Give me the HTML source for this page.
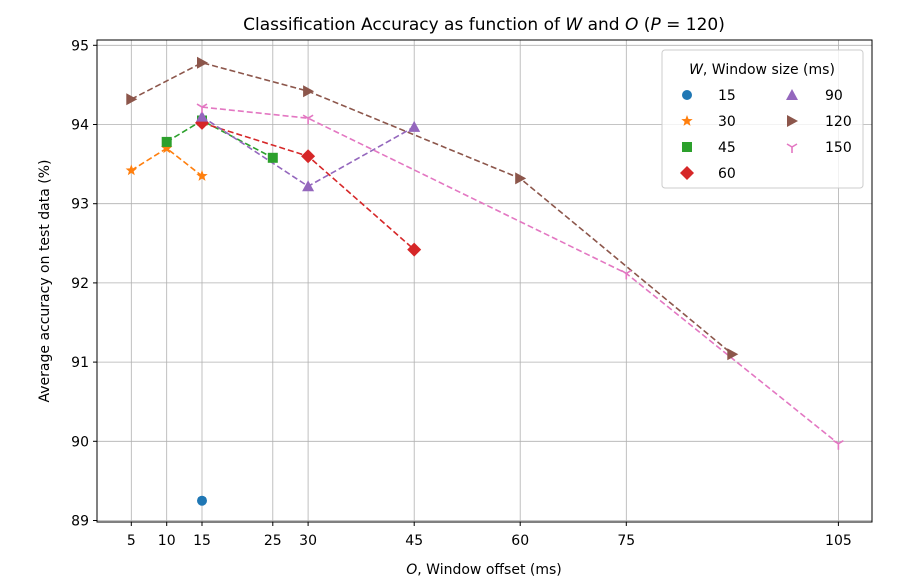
<!DOCTYPE html>
<html><head><style>body{margin:0;background:#fff}svg{display:block;font-family:"DejaVu Sans","Liberation Sans",sans-serif}</style></head>
<body>
<svg width="906" height="586" viewBox="0 0 906 586">
<g stroke="#b0b0b0" stroke-width="0.8">
<line x1="131.3" y1="40" x2="131.3" y2="522"/><line x1="166.7" y1="40" x2="166.7" y2="522"/><line x1="202" y1="40" x2="202" y2="522"/><line x1="272.8" y1="40" x2="272.8" y2="522"/><line x1="308.1" y1="40" x2="308.1" y2="522"/><line x1="414.2" y1="40" x2="414.2" y2="522"/><line x1="520.2" y1="40" x2="520.2" y2="522"/><line x1="626.3" y1="40" x2="626.3" y2="522"/><line x1="838.4" y1="40" x2="838.4" y2="522"/>
<line x1="97" y1="45.3" x2="872" y2="45.3"/><line x1="97" y1="124.5" x2="872" y2="124.5"/><line x1="97" y1="203.7" x2="872" y2="203.7"/><line x1="97" y1="282.9" x2="872" y2="282.9"/><line x1="97" y1="362.1" x2="872" y2="362.1"/><line x1="97" y1="441.3" x2="872" y2="441.3"/><line x1="97" y1="520.5" x2="872" y2="520.5"/>
</g>
<g fill="none" stroke-width="1.6" stroke-dasharray="6,3">
<polyline stroke="#ff7f0e" points="131.3,170.4 166.7,148.3 202,176"/>
<polyline stroke="#2ca02c" points="166.7,141.9 202,120.5 272.8,157.8"/>
<polyline stroke="#d62728" points="202,122.9 308.1,156.2 414.2,249.6"/>
<polyline stroke="#9467bd" points="202,116.6 308.1,186.3 414.2,126.9"/>
<polyline stroke="#8c564b" points="131.3,99.2 202,62.7 308.1,91.2 520.2,178.4 732.3,354.2"/>
<polyline stroke="#e377c2" points="202,107.1 308.1,118.2 626.3,273.4 838.4,443.7"/>
</g>
<defs>
<circle id="mc" r="5" fill="#1f77b4"/>
<polygon id="ms" fill="#ff7f0e" points="0,-6 1.5,-2 5.7,-1.9 2.4,0.8 3.5,4.9 0,2.5 -3.5,4.9 -2.4,0.8 -5.7,-1.9 -1.5,-2"/>
<rect id="mq" x="-5" y="-5" width="10" height="10" fill="#2ca02c"/>
<polygon id="md" fill="#d62728" points="0,-7 7,0 0,7 -7,0"/>
<polygon id="mt" fill="#9467bd" points="0,-6 6,5 -6,5"/>
<polygon id="mr" fill="#8c564b" points="-5,-6 6,0 -5,6"/>
<path id="my" d="M0,0 V6 M0,0 L-5,-3 M0,0 L5,-3" stroke="#e377c2" stroke-width="1.6" fill="none"/>
</defs>
<use href="#mc" x="202" y="500.7"/>
<use href="#ms" x="131.3" y="170.4"/><use href="#ms" x="166.7" y="148.3"/><use href="#ms" x="202" y="176"/>
<use href="#mq" x="166.7" y="141.9"/><use href="#mq" x="202" y="120.5"/><use href="#mq" x="272.8" y="157.8"/>
<use href="#md" x="202" y="122.9"/><use href="#md" x="308.1" y="156.2"/><use href="#md" x="414.2" y="249.6"/>
<use href="#mt" x="202" y="116.6"/><use href="#mt" x="308.1" y="186.3"/><use href="#mt" x="414.2" y="126.9"/>
<use href="#mr" x="131.3" y="99.2"/><use href="#mr" x="202" y="62.7"/><use href="#mr" x="308.1" y="91.2"/><use href="#mr" x="520.2" y="178.4"/><use href="#mr" x="732.3" y="354.2"/>
<use href="#my" x="202" y="107.1"/><use href="#my" x="308.1" y="118.2"/><use href="#my" x="626.3" y="273.4"/><use href="#my" x="838.4" y="443.7"/>
<rect x="97" y="40" width="775" height="482" fill="none" stroke="#000" stroke-width="1"/>
<g stroke="#000"><line x1="131.3" y1="522" x2="131.3" y2="526"/><line x1="166.7" y1="522" x2="166.7" y2="526"/><line x1="202" y1="522" x2="202" y2="526"/><line x1="272.8" y1="522" x2="272.8" y2="526"/><line x1="308.1" y1="522" x2="308.1" y2="526"/><line x1="414.2" y1="522" x2="414.2" y2="526"/><line x1="520.2" y1="522" x2="520.2" y2="526"/><line x1="626.3" y1="522" x2="626.3" y2="526"/><line x1="838.4" y1="522" x2="838.4" y2="526"/>
<line x1="93" y1="45.3" x2="97" y2="45.3"/><line x1="93" y1="124.5" x2="97" y2="124.5"/><line x1="93" y1="203.7" x2="97" y2="203.7"/><line x1="93" y1="282.9" x2="97" y2="282.9"/><line x1="93" y1="362.1" x2="97" y2="362.1"/><line x1="93" y1="441.3" x2="97" y2="441.3"/><line x1="93" y1="520.5" x2="97" y2="520.5"/></g>
<g font-size="14" fill="#000" text-anchor="middle">
<text x="131.3" y="545">5</text><text x="166.7" y="545">10</text><text x="202" y="545">15</text><text x="272.8" y="545">25</text><text x="308.1" y="545">30</text><text x="414.2" y="545">45</text><text x="520.2" y="545">60</text><text x="626.3" y="545">75</text><text x="838.4" y="545">105</text>
</g>
<g font-size="14" fill="#000" text-anchor="end">
<text x="89" y="50.3">95</text><text x="89" y="129.5">94</text><text x="89" y="208.7">93</text><text x="89" y="287.9">92</text><text x="89" y="367.1">91</text><text x="89" y="446.3">90</text><text x="89" y="525.5">89</text>
</g>
<text x="484" y="574" font-size="14" text-anchor="middle"><tspan font-style="italic">O</tspan>, Window offset (ms)</text>
<text transform="translate(49,281) rotate(-90)" font-size="14" text-anchor="middle">Average accuracy on test data (%)</text>
<text x="484" y="30" font-size="17" text-anchor="middle">Classification Accuracy as function of <tspan font-style="italic">W</tspan> and <tspan font-style="italic">O</tspan> (<tspan font-style="italic">P</tspan> = 120)</text>
<rect x="662" y="50" width="201" height="138" rx="3" fill="#fff" fill-opacity="0.8" stroke="#ccc"/>
<text x="762" y="74" font-size="14" text-anchor="middle"><tspan font-style="italic">W</tspan>, Window size (ms)</text>
<use href="#mc" x="687" y="95"/><use href="#ms" x="687" y="121"/><use href="#mq" x="687" y="147"/><use href="#md" x="687" y="173"/>
<use href="#mt" x="792" y="95"/><use href="#mr" x="792" y="121"/><use href="#my" x="792" y="147"/>
<g font-size="14"><text x="718" y="100">15</text><text x="718" y="126">30</text><text x="718" y="152">45</text><text x="718" y="178">60</text>
<text x="825" y="100">90</text><text x="825" y="126">120</text><text x="825" y="152">150</text></g>
</svg>
</body></html>
